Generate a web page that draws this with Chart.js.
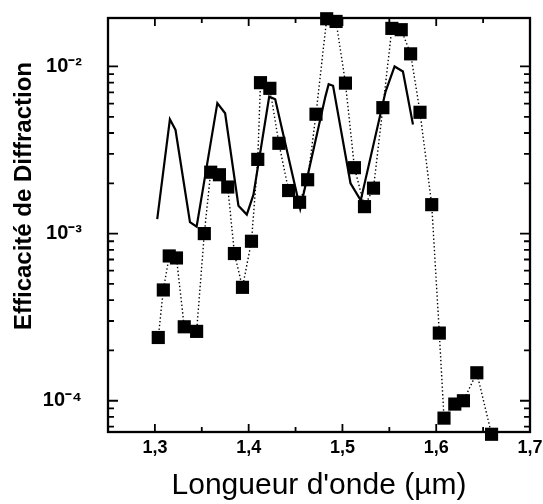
<!DOCTYPE html>
<html>
<head>
<meta charset="utf-8">
<script src="https://cdn.jsdelivr.net/npm/chart.js@4.4.1/dist/chart.umd.min.js"></script>
<style>
  html, body { margin: 0; padding: 0; background: #fff; }
  #wrap { width: 543px; height: 504px; }
</style>
</head>
<body>
<div id="wrap"><canvas id="c" width="543" height="504"></canvas></div>
<script>
// ---- data ----
const measWavelength = [1.3036, 1.309, 1.3153, 1.323, 1.3313, 1.3445, 1.3527, 1.3595, 1.3688, 1.3777,
  1.3848, 1.3934, 1.403, 1.4097, 1.4126, 1.4226, 1.4322, 1.4426, 1.4543, 1.4629,
  1.4718, 1.4832, 1.4932, 1.5032, 1.5128, 1.5235, 1.5331, 1.5431, 1.5527, 1.5627,
  1.5727, 1.5827, 1.5952, 1.6033, 1.6083, 1.6198, 1.629, 1.6433, 1.659];
const measEfficiency = [2.39e-4, 4.6e-4, 7.35e-4, 7.15e-4, 2.77e-4, 2.6e-4, 1.0e-3, 2.33e-3, 2.25e-3, 1.9e-3,
  7.6e-4, 4.77e-4, 9.0e-4, 2.78e-3, 8.0e-3, 7.4e-3, 3.47e-3, 1.81e-3, 1.54e-3, 2.1e-3,
  5.18e-3, 1.93e-2, 1.86e-2, 7.95e-3, 2.48e-3, 1.45e-3, 1.87e-3, 5.67e-3, 1.69e-2, 1.66e-2,
  1.19e-2, 5.32e-3, 1.49e-3, 2.54e-4, 7.87e-5, 9.55e-5, 1.0e-4, 1.47e-4, 6.3e-5];
const theoWavelength = [1.3025, 1.316, 1.322, 1.3374, 1.3445, 1.3666, 1.3749, 1.3891, 1.398, 1.4051,
  1.4219, 1.4283, 1.455, 1.4818, 1.4853, 1.49, 1.5086, 1.5195, 1.546, 1.5556, 1.5645, 1.5752];
const theoEfficiency = [1.22e-3, 4.83e-3, 4.17e-3, 1.17e-3, 1.1e-3, 6.03e-3, 5.25e-3, 1.47e-3, 1.3e-3, 1.71e-3,
  6.6e-3, 6.37e-3, 1.41e-3, 6.6e-3, 7.83e-3, 7.66e-3, 2.0e-3, 1.58e-3, 7.08e-3, 1.0e-2, 9.33e-3, 4.5e-3];
const xTicks = [1.3, 1.4, 1.5, 1.6, 1.7];
const xTickLabels = ['1,3', '1,4', '1,5', '1,6', '1,7'];
const yTicks = [1e-4, 1e-3, 1e-2];
const yTickLabels = ['10\u207B\u2074', '10\u207B\u00B3', '10\u207B\u00B2'];
const xTitle = "Longueur d'onde (\u00B5m)";
const yTitle = "Efficacit\u00E9 de Diffraction";

const FONT = '"Liberation Sans", Arial, Helvetica, sans-serif';

const framePlugin = {
  id: 'frame',
  beforeDatasetsDraw(chart) {
    const {ctx, chartArea: a, scales: {x, y}} = chart;
    ctx.save();
    ctx.strokeStyle = '#000';
    ctx.lineWidth = 2.3;
    ctx.strokeRect(a.left, a.top, a.right - a.left, a.bottom - a.top);
    ctx.lineWidth = 1.8;
    ctx.beginPath();
    const xs = [];
    for (let i = 0; i < xTicks.length; i++) {
      xs.push([xTicks[i], 8]);
      if (i < xTicks.length - 1) xs.push([(xTicks[i] + xTicks[i + 1]) / 2, 5]);
    }
    xs.forEach(([v, len]) => {
      if (v <= x.min || v >= x.max) return;
      const px = x.getPixelForValue(v);
      ctx.moveTo(px, a.bottom); ctx.lineTo(px, a.bottom - len);
      ctx.moveTo(px, a.top); ctx.lineTo(px, a.top + len);
    });
    const lo = Math.floor(Math.log10(y.min)), hi = Math.ceil(Math.log10(y.max));
    for (let e = lo; e <= hi; e++) {
      for (let m = 1; m <= 9; m++) {
        const v = m * Math.pow(10, e);
        if (v <= y.min || v >= y.max) continue;
        const py = y.getPixelForValue(v);
        const len = m === 1 ? 10 : 6;
        ctx.moveTo(a.left, py); ctx.lineTo(a.left + len, py);
        ctx.moveTo(a.right, py); ctx.lineTo(a.right - len, py);
      }
    }
    ctx.stroke();
    ctx.restore();
  },
  afterDraw(chart) {
    const {ctx} = chart;
    ctx.save();
    ctx.fillStyle = '#000';
    ctx.font = 'bold 24px ' + FONT;
    ctx.textAlign = 'center';
    ctx.textBaseline = 'alphabetic';
    ctx.translate(31, 196);
    ctx.rotate(-Math.PI / 2);
    ctx.fillText(yTitle, 0, 0);
    ctx.restore();
  }
};

new Chart(document.getElementById('c'), {
  type: 'line',
  data: {
    datasets: [
      {
        label: 'theory',
        data: theoWavelength.map((w, i) => ({x: w, y: theoEfficiency[i]})),
        borderColor: '#000',
        borderWidth: 2.2,
        pointRadius: 0,
        tension: 0,
        fill: false
      },
      {
        label: 'measured',
        data: measWavelength.map((w, i) => ({x: w, y: measEfficiency[i]})),
        borderColor: '#000',
        borderWidth: 1.4,
        borderDash: [1.4, 2.4],
        pointStyle: 'rect',
        pointRadius: 9.3,
        pointBorderWidth: 0,
        pointBackgroundColor: '#000',
        tension: 0,
        fill: false,
        clip: false
      }
    ]
  },
  options: {
    responsive: false,
    animation: false,
    devicePixelRatio: 1,
    layout: {padding: {top: 18, right: 13, left: 0, bottom: 0}},
    plugins: {legend: {display: false}, tooltip: {enabled: false}},
    scales: {
      x: {
        type: 'linear',
        min: 1.25,
        max: 1.7,
        grid: {display: false, drawTicks: false},
        border: {display: false},
        afterBuildTicks: s => { s.ticks = xTicks.map(v => ({value: v})); },
        afterFit: s => { s.height = 72; s.paddingLeft = 0; s.paddingRight = 0; },
        ticks: {
          autoSkip: false,
          maxRotation: 0,
          padding: 5,
          color: '#000',
          font: {family: FONT, size: 18, weight: 'bold'},
          callback: (v, i) => xTickLabels[i]
        },
        title: {
          display: true,
          text: xTitle,
          color: '#000',
          padding: {top: 0, bottom: 0},
          font: {family: FONT, size: 30, weight: 'normal'}
        }
      },
      y: {
        type: 'logarithmic',
        min: 6.5e-5,
        max: 0.0195,
        grid: {display: false, drawTicks: false},
        border: {display: false},
        afterBuildTicks: s => { s.ticks = yTicks.map(v => ({value: v, major: true})); },
        afterFit: s => { s.width = 108; s.paddingTop = 0; s.paddingBottom = 0; },
        ticks: {
          autoSkip: false,
          padding: 26,
          color: '#000',
          font: {family: FONT, size: 20, weight: 'bold'},
          callback: (v, i) => yTickLabels[i]
        }
      }
    }
  },
  plugins: [framePlugin]
});
</script>
</body>
</html>
